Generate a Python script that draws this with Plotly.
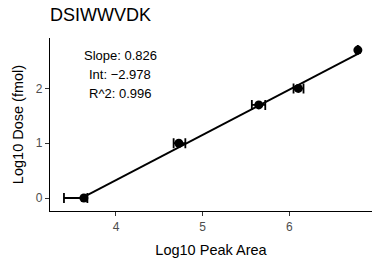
import plotly.graph_objects as go

log_area = [3.63, 4.725, 5.647, 6.103, 6.79]
err_plus = [0.04, 0.075, 0.075, 0.06, 0.0]
err_minus = [0.23, 0.06, 0.08, 0.055, 0.0]
log_dose = [0.0, 1.0, 1.699, 2.0, 2.699]
slope = 0.826
intercept = -2.978
r2 = 0.996
title = "DSIWWVDK"

fit_x = [min(log_area), max(log_area)]
fit_y = [slope * v + intercept for v in fit_x]

font = "Liberation Sans, Arial, sans-serif"
fig = go.Figure()
fig.add_trace(go.Scatter(x=fit_x, y=fit_y, mode="lines",
                         line=dict(color="black", width=1.8), showlegend=False))
fig.add_trace(go.Scatter(x=log_area, y=log_dose, mode="markers",
                         marker=dict(color="black", size=9),
                         error_x=dict(type="data", array=err_plus, arrayminus=err_minus,
                                      symmetric=False, color="black", thickness=1.8, width=5),
                         showlegend=False, cliponaxis=False))
stats = [f"Slope: {slope:.3f}", f"Int: \u2212{abs(intercept):.3f}", f"R^2: {r2:.3f}"]
for txt, yv in zip(stats, [2.597, 2.245, 1.91]):
    fig.add_annotation(x=4.05, y=yv, xref="x", yref="y", text=txt,
                       showarrow=False, xanchor="center", yanchor="middle",
                       font=dict(family=font, size=13, color="black"))
fig.update_layout(
    width=372, height=264,
    margin=dict(l=50, r=0, t=38, b=53),
    paper_bgcolor="white", plot_bgcolor="white",
    title=dict(text=title, x=50/372, xanchor="left", y=1 - 15/264, yanchor="middle",
               font=dict(family=font, size=18, color="black")),
    font=dict(family=font),
)
fig.update_xaxes(range=[3.239, 6.953], tickvals=[4, 5, 6], showgrid=False, zeroline=False,
                 showline=True, linecolor="black", linewidth=1.3, automargin=False,
                 ticks="outside", ticklen=4, tickcolor="#333333",
                 tickfont=dict(size=12, color="#4d4d4d", family=font),
                 title=dict(text="Log10 Peak Area", font=dict(size=14.5, color="black", family=font), standoff=12))
fig.update_yaxes(range=[-0.237, 2.92], tickvals=[0, 1, 2], showgrid=False, zeroline=False,
                 showline=True, linecolor="black", linewidth=1.3, automargin=False,
                 ticks="outside", ticklen=4, tickcolor="#333333",
                 tickfont=dict(size=12, color="#4d4d4d", family=font),
                 title=dict(text="Log10 Dose (fmol)", font=dict(size=14.5, color="black", family=font), standoff=8))
fig.write_html("out.html", config={"displayModeBar": False},
               post_script="document.body.style.margin='0';")
